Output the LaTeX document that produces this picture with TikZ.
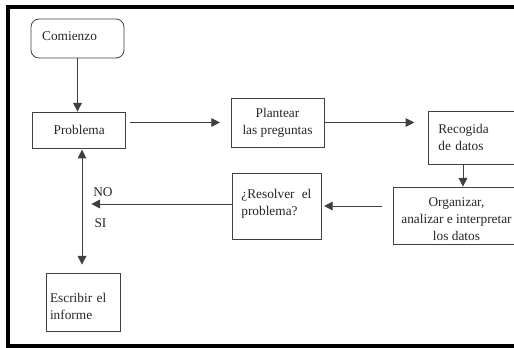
\documentclass[tikz,border=0pt]{standalone}
\usepackage{fontspec}
\setmainfont{Liberation Serif}
\usetikzlibrary{arrows.meta, positioning}

\begin{document}
\begin{tikzpicture}[x=0.75pt, y=-0.75pt,
  >={Triangle[length=6.5pt, width=6.5pt]},
  box/.style={draw=black!75, line width=0.6pt, inner ysep=2pt, text=black!85, font=\fontsize{10}{12.75}\selectfont},
  arr/.style={draw=black!75, line width=0.7pt, ->},
  tag/.style={text=black!85, font=\fontsize{10}{12}\selectfont}]
  \useasboundingbox (0,0) rectangle (514,347);
  \clip (0,0) rectangle (514,347);

  % Frame
  \draw[line width=3pt] (520,7) -- (8,7) -- (8,345.5) -- (520,345.5);

  % Steps
  \node[box, rounded corners=6pt, minimum width=69.75pt, minimum height=29.25pt, text width=53pt, align=left, inner xsep=8.25pt, text depth=4pt] (start) at (77.5,38.5) {Comienzo};
  \node[box, minimum width=69.75pt, minimum height=27pt, text width=52pt, align=center, inner xsep=0pt, xshift=2pt] (prob) at (76.5,130) {Problema};
  \node[box, minimum width=69.75pt, minimum height=36.75pt, align=center] (plan) at (277.5,122.5) {Plantear\\las preguntas};
  \node[box, minimum width=70.5pt, minimum height=39.75pt, text width=55pt, align=left, inner xsep=7.5pt] (rec) at (475,137.5) {Recogida\\de datos};
  \node[box, minimum width=95.25pt, minimum height=42.75pt, align=center, inner ysep=0pt, text height=37pt] (org) at (456.5,215.5) {Organizar,\\analizar e interpretar\\los datos};
  \node[box, minimum width=66.75pt, minimum height=49.5pt, text width=52.75pt, align=left, inner xsep=7pt, text depth=17.5pt] (ask) at (276.5,206) {¿Resolver\hspace{2pt} el\\problema?};
  \node[box, minimum width=55.5pt, minimum height=43.5pt, text width=49.5pt, align=left, inner xsep=3pt, text depth=6.25pt] (rep) at (83,302) {Escribir el\\informe};

  % Flow
  \draw[arr] (start.south) -- (start.south |- prob.north);
  \draw[arr, shorten <=3pt, shorten >=8pt] (prob.east |- plan) -- (plan.west);
  \draw[arr, shorten >=10pt] (plan.east) -- (plan.east -| rec.west);
  \coordinate (recout) at (463,164);
  \draw[arr] (recout) -- (recout |- org.north);
  \draw[arr, shorten <=8pt, shorten >=2pt] (org.west |- ask.east) -- (ask.east);

  % Decision
  \coordinate (split) at (82,204);
  \draw[arr, shorten >=7pt] (ask.west |- split) -- (split);
  \draw[arr, <->, shorten <=1pt, shorten >=6pt] (split |- prob.south) -- (split |- rep.north);
  \node[tag] (no) at (103,192) {NO};
  \node[tag] (si) at (100.5,223) {SI};
\end{tikzpicture}
\end{document}
